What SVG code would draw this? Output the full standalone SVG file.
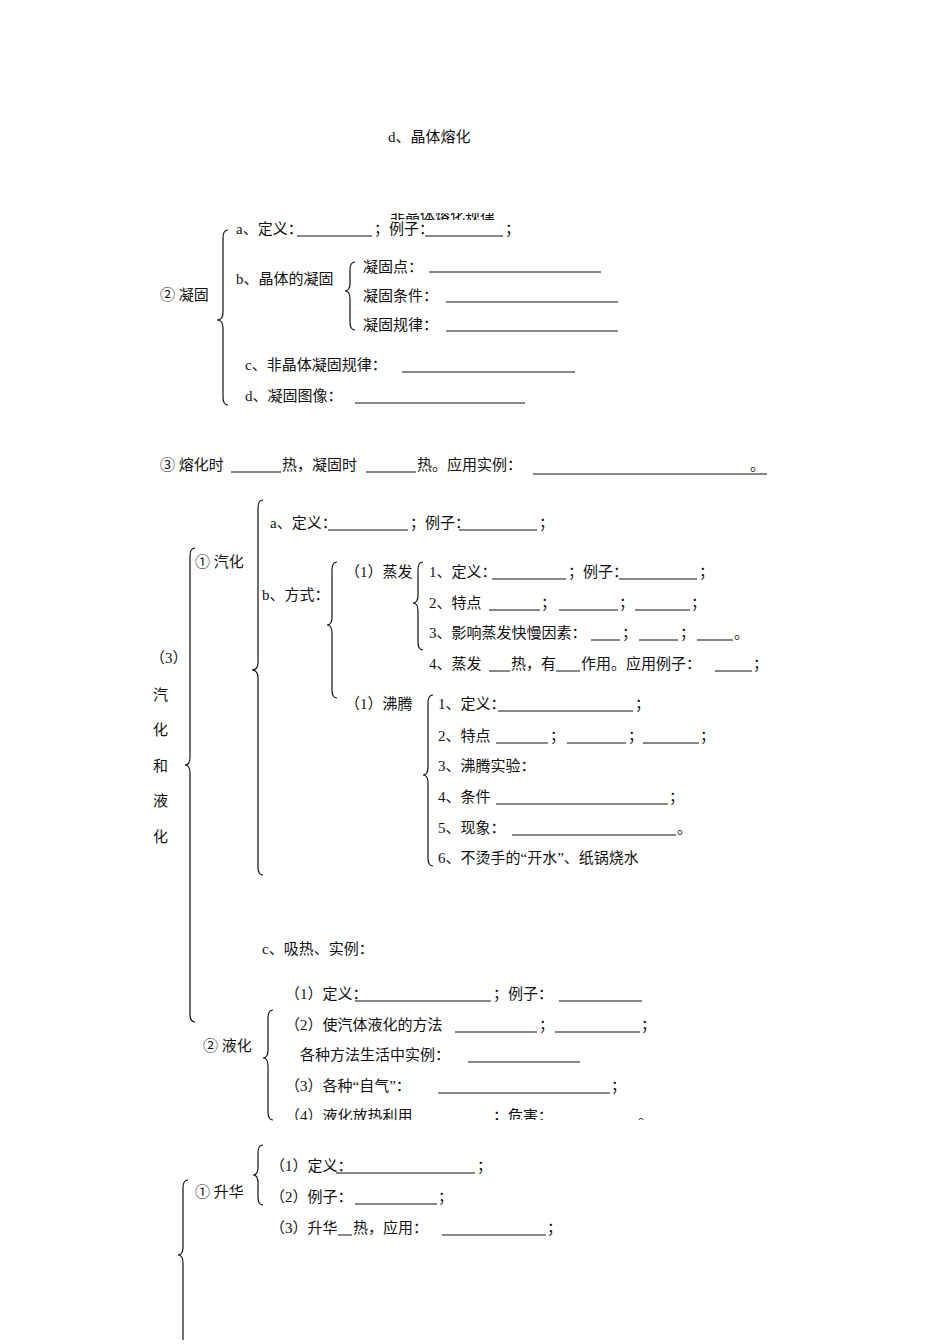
<svg xmlns="http://www.w3.org/2000/svg" width="950" height="1344" viewBox="0 0 950 1344">
<style>
text{font-family:"Liberation Serif","Noto Sans CJK SC",serif;font-size:15px;fill:#111}
.u{stroke:#111;stroke-width:1}
.b{fill:none;stroke:#111;stroke-width:1.2}
</style>
<defs>
<clipPath id="c1"><rect x="0" y="213" width="950" height="7"/></clipPath>
<clipPath id="c2"><rect x="0" y="1100" width="950" height="20"/></clipPath>
</defs>
<rect width="950" height="1344" fill="#fff"/>
<g id="connectors">
<path class="b" d="M228 230 Q223 230 223 238 L223 312 Q223 320 217 320 Q223 320 223 328 L223 397 Q223 405 228 405"/>
<path class="b" d="M355 262 Q350 262 350 270 L350 283 Q350 291 345 291 Q350 291 350 299 L350 322 Q350 330 355 330"/>
<path class="b" d="M195 548 Q190 548 190 556 L190 757 Q190 765 185 765 Q190 765 190 773 L190 1014 Q190 1022 195 1022"/>
<path class="b" d="M263 500 Q258 500 258 508 L258 662 Q258 670 252 670 Q258 670 258 678 L258 867 Q258 875 263 875"/>
<path class="b" d="M337 562 Q332 562 332 570 L332 617 Q332 625 327 625 Q332 625 332 633 L332 690 Q332 698 337 698"/>
<path class="b" d="M423 562 Q418 562 418 570 L418 595 Q418 603 413 603 Q418 603 418 611 L418 642 Q418 650 423 650"/>
<path class="b" d="M433 695 Q428 695 428 703 L428 767 Q428 775 423 775 Q428 775 428 783 L428 858 Q428 866 433 866"/>
<path class="b" d="M273 1010 Q268 1010 268 1018 L268 1050 Q268 1058 263 1058 Q268 1058 268 1066 L268 1112 Q268 1120 273 1120"/>
<path class="b" d="M263 1145 Q258 1145 258 1153 L258 1167 Q258 1175 253 1175 Q258 1175 258 1183 L258 1197 Q258 1205 263 1205"/>
<path class="b" d="M188 1180 Q183 1180 183 1188 L183 1247 Q183 1255 178 1255 Q183 1255 183 1263 L183 1340"/>
</g>
<g id="title"><text x="388" y="142">d、晶体熔化</text>
<text x="390" y="221" clip-path="url(#c1)">非晶体熔化规律</text></g>
<g id="ninggu">
<text x="160" y="300">② 凝固</text>
<text x="236" y="234">a、定义：</text><line class="u" x1="297" y1="236" x2="372" y2="236"/><text x="374" y="234">；例子：</text><line class="u" x1="425" y1="236" x2="503" y2="236"/><text x="505" y="234">；</text>
<text x="236" y="284">b、晶体的凝固</text>
<text x="363" y="272">凝固点：</text><line class="u" x1="429" y1="272" x2="601" y2="272"/>
<text x="363" y="301">凝固条件：</text><line class="u" x1="446" y1="302" x2="618" y2="302"/>
<text x="363" y="330">凝固规律：</text><line class="u" x1="446" y1="331" x2="618" y2="331"/>
<text x="245" y="370">c、非晶体凝固规律：</text><line class="u" x1="402" y1="372" x2="575" y2="372"/>
<text x="245" y="401">d、凝固图像：</text><line class="u" x1="355" y1="403" x2="525" y2="403"/>
</g>
<g id="line3">
<text x="160" y="470">③ 熔化时</text><line class="u" x1="231" y1="472" x2="281" y2="472"/>
<text x="282" y="470">热，凝固时</text><line class="u" x1="366" y1="472" x2="416" y2="472"/>
<text x="417" y="470">热。应用实例：</text><line class="u" x1="533" y1="474" x2="767" y2="474"/><text x="750" y="470">。</text>
</g>
<g id="qihua">
<text x="150" y="663">（3）</text>
<text x="153" y="700">汽</text><text x="153" y="735">化</text><text x="153" y="771">和</text><text x="153" y="806">液</text><text x="153" y="842">化</text>
<text x="195" y="567">① 汽化</text>
<text x="270" y="528">a、定义：</text><line class="u" x1="328" y1="530" x2="408" y2="530"/><text x="410" y="528">；例子：</text><line class="u" x1="459" y1="530" x2="537" y2="530"/><text x="539" y="528">；</text>
<text x="262" y="600">b、方式：</text>
<text x="345" y="577">（1）蒸发</text>
<text x="429" y="577">1、定义：</text><line class="u" x1="492" y1="579" x2="566" y2="579"/><text x="568" y="577">；例子：</text><line class="u" x1="619" y1="579" x2="697" y2="579"/><text x="699" y="577">；</text>
<text x="429" y="608">2、特点</text><line class="u" x1="489" y1="610" x2="540" y2="610"/><text x="541" y="608">；</text><line class="u" x1="559" y1="610" x2="618" y2="610"/><text x="619" y="608">；</text><line class="u" x1="635" y1="610" x2="690" y2="610"/><text x="691" y="608">；</text>
<text x="429" y="638">3、影响蒸发快慢因素：</text><line class="u" x1="591" y1="640" x2="620" y2="640"/><text x="622" y="638">；</text><line class="u" x1="639" y1="640" x2="678" y2="640"/><text x="680" y="638">；</text><line class="u" x1="697" y1="640" x2="733" y2="640"/><text x="734" y="638">。</text>
<text x="429" y="669">4、蒸发</text><line class="u" x1="489" y1="671" x2="510" y2="671"/><text x="511" y="669">热，有</text><line class="u" x1="556" y1="671" x2="580" y2="671"/><text x="581" y="669">作用。应用例子：</text><line class="u" x1="715" y1="671" x2="752" y2="671"/><text x="753" y="669">；</text>
<text x="345" y="709">（1）沸腾</text>
<text x="438" y="709">1、定义：</text><line class="u" x1="498" y1="711" x2="633" y2="711"/><text x="635" y="709">；</text>
<text x="438" y="741">2、特点</text><line class="u" x1="496" y1="743" x2="548" y2="743"/><text x="550" y="741">；</text><line class="u" x1="567" y1="743" x2="626" y2="743"/><text x="628" y="741">；</text><line class="u" x1="643" y1="743" x2="699" y2="743"/><text x="700" y="741">；</text>
<text x="438" y="771">3、沸腾实验：</text>
<text x="438" y="802">4、条件</text><line class="u" x1="496" y1="804" x2="668" y2="804"/><text x="669" y="802">；</text>
<text x="438" y="833">5、现象：</text><line class="u" x1="512" y1="835" x2="676" y2="835"/><text x="677" y="833">。</text>
<text x="438" y="863">6、不烫手的“开水”、纸锅烧水</text>
<text x="262" y="954">c、吸热、实例：</text>
</g>
<g id="yehua">
<text x="203" y="1051">② 液化</text>
<text x="285" y="999">（1）定义：</text><line class="u" x1="355" y1="1001" x2="491" y2="1001"/><text x="493" y="999">；例子：</text><line class="u" x1="559" y1="1001" x2="642" y2="1001"/>
<text x="285" y="1030">（2）使汽体液化的方法</text><line class="u" x1="455" y1="1032" x2="537" y2="1032"/><text x="539" y="1030">；</text><line class="u" x1="555" y1="1032" x2="640" y2="1032"/><text x="641" y="1030">；</text>
<text x="300" y="1060">各种方法生活中实例：</text><line class="u" x1="468" y1="1062" x2="580" y2="1062"/>
<text x="285" y="1091">（3）各种“自气”：</text><line class="u" x1="438" y1="1093" x2="610" y2="1093"/><text x="611" y="1091">；</text>
<g clip-path="url(#c2)"><text x="285" y="1121">（4）液化放热利用</text><text x="493" y="1121">；危害：</text><text x="638" y="1121">。</text></g>
</g>
<g id="shenghua">
<text x="195" y="1197">① 升华</text>
<text x="270" y="1171">（1）定义：</text><line class="u" x1="336" y1="1173" x2="475" y2="1173"/><text x="477" y="1171">；</text>
<text x="270" y="1202">（2）例子：</text><line class="u" x1="355" y1="1204" x2="437" y2="1204"/><text x="438" y="1202">；</text>
<text x="270" y="1233">（3）升华</text><line class="u" x1="338" y1="1235" x2="352" y2="1235"/><text x="353" y="1233">热，应用：</text><line class="u" x1="442" y1="1235" x2="546" y2="1235"/><text x="547" y="1233">；</text>
</g>
</svg>
